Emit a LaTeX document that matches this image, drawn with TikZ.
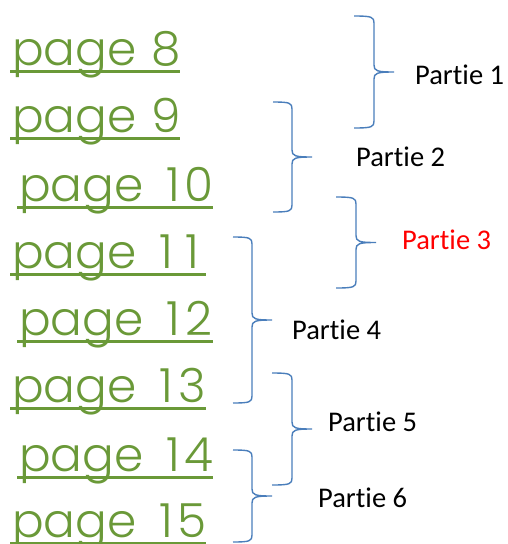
\documentclass[tikz,border=0pt]{standalone}
\usepackage{fontspec}
\IfFontExistsTF{Poppins Light}{\setmainfont{Poppins Light}}{\setmainfont{Poppins}}
\newfontfamily\labelfont{Carlito}[Ligatures={NoCommon,NoRare,NoDiscretionary}]
\definecolor{pagegreen}{RGB}{106,153,56}
\definecolor{braceblue}{RGB}{74,126,187}
\newcommand{\pgdig}[1]{\makebox[26pt][c]{#1}}
\newcommand{\pgword}{\makebox[141pt][l]{page}}
\newcommand{\wbrace}[6]{% name, left x, vertical x, tip x, top y, bottom y
  \coordinate (#1) at (#4,{(#5+#6)/2});
  \draw[bracestyle] (#2,#5) .. controls ({#3-2},#5) and (#3,{#5+1}) .. (#3,{#5+7})
    -- (#3,{(#5+#6)/2-7}) .. controls (#3,{(#5+#6)/2-1}) and ({#3+3},{(#5+#6)/2}) .. (#1)
    .. controls ({#3+3},{(#5+#6)/2}) and (#3,{(#5+#6)/2+1}) .. (#3,{(#5+#6)/2+7})
    -- (#3,{#6-7}) .. controls (#3,{#6-1}) and ({#3-2},#6) .. (#2,#6);}
\begin{document}
\begin{tikzpicture}[x=1pt,y=-1pt,
  pagetext/.style={anchor=base west,inner sep=0pt,text=pagegreen,font=\fontsize{47}{47}\selectfont},
  uline/.style={draw=pagegreen,line width=3pt},
  bracestyle/.style={draw=braceblue,line width=1.4pt},
  partlabel/.style={anchor=west,inner sep=0pt,font=\labelfont\fontsize{28.5}{28.5}\selectfont}]
\useasboundingbox (0,0) rectangle (507,544);
\node[pagetext] (p8) at (12,65.5) {\pgword\pgdig{8}};
\node[pagetext] (p9) at (12,132.5) {\pgword\pgdig{9}};
\node[pagetext] (p10) at (19,201.5) {\pgword\pgdig{1}\pgdig{0}};
\node[pagetext] (p11) at (12,268.5) {\pgword\pgdig{1}\pgdig{1}};
\node[pagetext] (p12) at (19,335.5) {\pgword\pgdig{1}\pgdig{2}};
\node[pagetext] (p13) at (12,402.5) {\pgword\pgdig{1}\pgdig{3}};
\node[pagetext] (p14) at (19,471.5) {\pgword\pgdig{1}\pgdig{4}};
\node[pagetext] (p15) at (12,537.5) {\pgword\pgdig{1}\pgdig{5}};
\foreach \p in {p8,p9,p10,p11,p12,p13,p14,p15}{
  \draw[uline] ([xshift=-2pt,yshift=-5.5pt]\p.base west) -- ([xshift=1pt,yshift=-5.5pt]\p.base east);
}
\wbrace{b1}{354}{374}{394}{16}{128}
\wbrace{b2}{273}{292}{312}{102}{212}
\wbrace{b3}{336}{356}{376}{197}{288}
\wbrace{b4}{233}{252}{272}{237}{403}
\wbrace{b5}{272}{292}{312}{373}{485}
\wbrace{b6}{233}{252}{272}{450}{542}
\node[partlabel] (l1) at (415,75) {Partie 1};
\node[partlabel] (l2) at (356,157) {Partie 2};
\node[partlabel,text=red] (l3) at (402,240) {Partie 3};
\node[partlabel] (l4) at (292,330) {Partie 4};
\node[partlabel] (l5) at (328,422) {Partie 5};
\node[partlabel] (l6) at (318,498) {Partie 6};
\end{tikzpicture}
\end{document}
